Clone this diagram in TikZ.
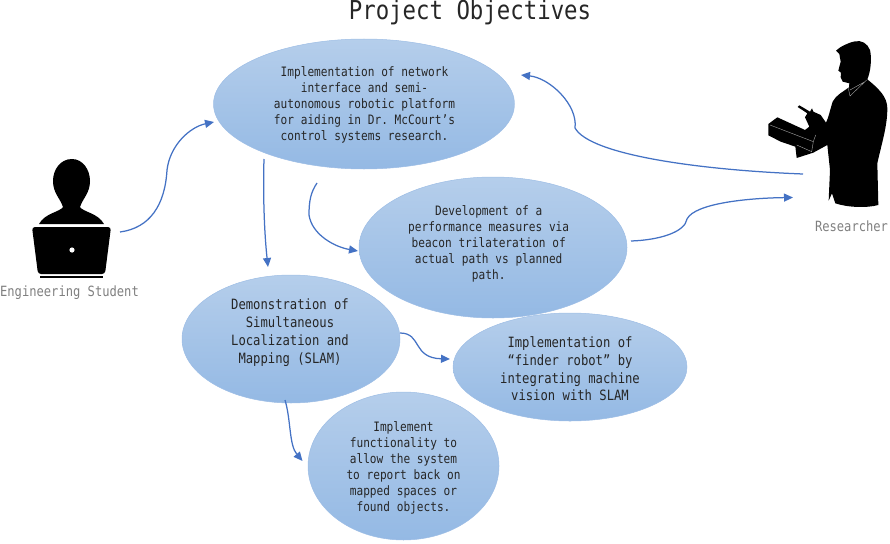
\documentclass[tikz,border=0pt]{standalone}
\usepackage{fontspec}
\setmonofont[FakeStretch=0.86]{DejaVu Sans Mono}
\usetikzlibrary{shapes.geometric,arrows.meta}
\definecolor{flow}{HTML}{4472C4}
\definecolor{inktext}{HTML}{262626}
\definecolor{capgray}{HTML}{7F7F7F}
\definecolor{ovaltop}{HTML}{B5CEEB}
\definecolor{ovalbot}{HTML}{94B9E4}
\definecolor{ovaledge}{HTML}{9DBDE5}
\tikzset{
  oval/.style={ellipse,inner sep=0pt,draw=ovaledge,line width=0.5pt,top color=ovaltop,bottom color=ovalbot},
  ovaltext/.style={inner sep=0pt,text=inktext,align=center,font=\ttfamily\fontsize{12.95}{16}\selectfont},
  ovaltextbig/.style={inner sep=0pt,text=inktext,align=center,font=\ttfamily\fontsize{14.2}{#1}\selectfont},
  flowline/.style={draw=flow,line width=1.25pt,-{Triangle[length=9pt,width=8pt]}},
  caption/.style={text=capgray,font=\ttfamily\fontsize{14.1}{15}\selectfont,inner sep=0pt},
  sil/.style={fill=black,draw=none},
}
\begin{document}
\begin{tikzpicture}[x=1pt,y=-1pt]
\useasboundingbox (0,0) rectangle (890,543);
\node[inner sep=0pt,text=inktext,font=\ttfamily\fontsize{26}{28}\selectfont] (title) at (470,12) {Project Objectives};

\node[oval,minimum width=301pt,minimum height=130pt] (top) at (364,104) {};
\node[ovaltext] (toptext) at (364.5,105)
 {Implementation of network\\interface and semi-\\autonomous robotic platform\\for aiding in Dr. McCourt’s\\control systems research.};
\node[oval,minimum width=268pt,minimum height=141pt] (dev) at (493,247.5) {};
\node[ovaltext] (devtext) at (488.7,243.5)
 {Development of a\\performance measures via\\beacon trilateration of\\actual path vs planned\\path.};
\node[oval,minimum width=218pt,minimum height=128pt] (slam) at (291,339) {};
\node[ovaltextbig=18] (slamtext) at (290,333)
 {Demonstration of\\Simultaneous\\Localization and\\Mapping (SLAM)};
\node[oval,minimum width=234pt,minimum height=108pt] (finder) at (570,367) {};
\node[ovaltextbig=17.6] (findertext) at (570,369)
 {Implementation of\\“finder robot” by\\integrating machine\\vision with SLAM};
\node[oval,minimum width=191pt,minimum height=148pt] (impl) at (403.5,466) {};
\node[ovaltext] (impltext) at (403.5,468)
 {Implement\\functionality to\\allow the system\\to report back on\\mapped spaces or\\found objects.};

% student icon
\node[inner sep=0pt,minimum width=80pt,minimum height=85pt] (student) at (72,206) {};
\fill[sil] (72,159) .. controls (60,159) and (53,170) .. (53,181)
  .. controls (53,193) and (60,198) .. (63,207)
  .. controls (60,212) and (45,213) .. (39,224) -- (104,224)
  .. controls (98,213) and (83,212) .. (80,207)
  .. controls (83,198) and (90,193) .. (90,181)
  .. controls (90,170) and (83,159) .. (72,159) -- cycle;
\fill[sil,rounded corners=3pt] (32,227) -- (111,227) -- (105,274) -- (38,274) -- cycle;
\fill[sil] (40,275.5) rectangle (103,278);
\fill[white] (72,250) circle (2.6pt);
\node[caption] (studentcap) at (69.5,293) {Engineering Student};

% researcher silhouette
\node[inner sep=0pt,minimum width=120pt,minimum height=180pt] (res) at (828,130) {};
\begin{scope}[shift={(750,30)},x=0.3333pt,y=-0.3333pt]
\fill[sil] (315,34) .. controls (295,38) and (270,50) .. (258,62) -- (268,72) -- (272,95) -- (265,122) -- (273,128) -- (272,142) -- (278,155) -- (298,160) -- (297,172)
  .. controls (280,185) and (258,195) .. (248,215) .. controls (240,240) and (235,265) .. (228,278)
  -- (212,255) -- (190,245) -- (186,235) -- (180,245) -- (148,226) -- (143,231) -- (172,250) -- (165,262) -- (178,290) -- (165,300) -- (82,262) -- (55,282) -- (55,316) -- (92,335) -- (136,350) -- (140,384) -- (190,368) -- (232,345)
  -- (240,420) -- (236,512) -- (246,490) -- (256,520) .. controls (290,532) and (350,535) .. (385,525) -- (382,400)
  .. controls (395,340) and (412,290) .. (412,235) .. controls (412,200) and (385,175) .. (352,148)
  .. controls (362,125) and (366,85) .. (360,60) .. controls (352,40) and (335,30) .. (315,34) -- cycle;
\draw[gray!70,line width=0.4pt] (295,175) -- (300,198) -- (350,150) (300,180) -- (345,155);
\draw[gray!70,line width=0.4pt] (60,285) -- (190,335) -- (185,365) -- (140,345) (190,335) -- (197,315);
\end{scope}
\node[caption] (rescap) at (851.5,226) {Researcher};

\coordinate (a1) at (120,232); \coordinate (a1e) at (214,122);
\coordinate (a2) at (803,174); \coordinate (a2e) at (521,75);
\coordinate (a3) at (264,159); \coordinate (a3e) at (268,267);
\coordinate (a4) at (317,183); \coordinate (a4e) at (358,251);
\coordinate (a5) at (631,241); \coordinate (a5e) at (793,197.5);
\coordinate (a6) at (400,333); \coordinate (a6e) at (450,359);
\coordinate (a7) at (285,400); \coordinate (a7e) at (302.5,461);

\draw[flowline] (a1) .. controls (150,228) and (165,205) .. (167,170) .. controls (170,145) and (190,127) .. (a1e);
\draw[flowline] (a2) .. controls (700,170) and (590,155) .. (575,128) .. controls (578,105) and (550,78) .. (a2e);
\draw[flowline] (a3) .. controls (263,190) and (264,230) .. (a3e);
\draw[flowline] (a4) .. controls (311,192) and (309,200) .. (309,215) .. controls (312,235) and (335,247) .. (a4e);
\draw[flowline] (a5) .. controls (660,240) and (685,232) .. (687,219) .. controls (695,203) and (750,198) .. (a5e);
\draw[flowline] (a6) .. controls (422,333) and (412,358) .. (a6e);
\draw[flowline] (a7) .. controls (291,420) and (289,445) .. (a7e);
\end{tikzpicture}
\end{document}
